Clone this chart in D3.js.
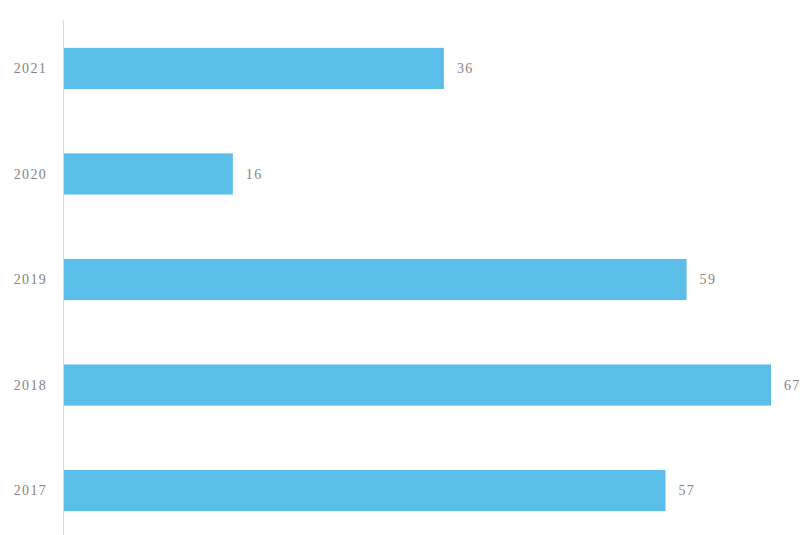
<!DOCTYPE html>
<html>
<head>
<meta charset="utf-8">
<script src="https://cdn.jsdelivr.net/npm/d3@7"></script>
<style>
  body { margin: 0; background: #fff; }
  #chart { width: 802px; height: 535px; }
  text { font-family: "Liberation Serif", "DejaVu Serif", serif; }
</style>
</head>
<body>
<div id="chart"></div>
<script>
// chart data
const years = ["2021", "2020", "2019", "2018", "2017"];
const counts = [36, 16, 59, 67, 57];

const width = 802, height = 535;

const svg = d3.select("#chart").append("svg")
    .attr("width", width)
    .attr("height", height);

// scales
const x = d3.scaleLinear()
    .domain([0, 67])
    .range([64, 771]);

const y = d3.scaleBand()
    .domain(years)
    .range([22, 537])
    .paddingInner(0.61)
    .paddingOuter(0.245);

// vertical axis line
svg.append("line")
    .attr("x1", 63.5).attr("x2", 63.5)
    .attr("y1", 20).attr("y2", height)
    .attr("stroke", "#dadada")
    .attr("stroke-width", 1);

// bars
svg.append("g")
    .selectAll("rect")
    .data(years)
    .enter().append("rect")
    .attr("x", x(0))
    .attr("y", d => y(d))
    .attr("width", (d, i) => x(counts[i]) - x(0))
    .attr("height", y.bandwidth())
    .attr("fill", "#5bbee9");

// year labels
svg.append("g")
    .selectAll("text")
    .data(years)
    .enter().append("text")
    .attr("x", 47)
    .attr("y", d => y(d) + y.bandwidth() / 2)
    .attr("dy", "0.35em")
    .attr("text-anchor", "end")
    .attr("font-size", 14)
    .attr("letter-spacing", "1.3px")
    .attr("fill", "#858585")
    .text(d => d);

// value labels
svg.append("g")
    .selectAll("text")
    .data(years)
    .enter().append("text")
    .attr("x", (d, i) => x(counts[i]) + 13)
    .attr("y", d => y(d) + y.bandwidth() / 2)
    .attr("dy", "0.35em")
    .attr("font-size", 14)
    .attr("letter-spacing", "1.3px")
    .attr("fill", "#858585")
    .text((d, i) => counts[i]);
</script>
</body>
</html>
